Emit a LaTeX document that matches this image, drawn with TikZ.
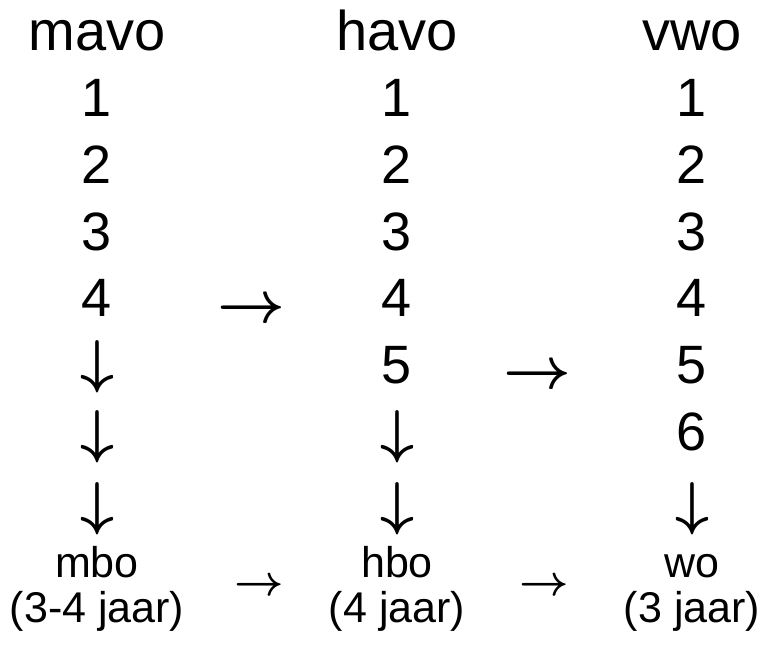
\documentclass[tikz,border=0pt]{standalone}
\usepackage{fontspec}
\setmainfont{Liberation Sans}
\newcommand{\bigra}{\smash{\scalebox{5.9}{\normalsize\boldmath$\rightarrow$}}}
\newcommand{\bigda}{\smash{\scalebox{5.9}{\normalsize\boldmath$\downarrow$}}}
\newcommand{\smallra}{\smash{\scalebox{4.3}{\normalsize\boldmath$\rightarrow$}}}
\begin{document}
\begin{tikzpicture}[x=1pt,y=-1pt,
  head/.style={font=\fontsize{56}{56}\selectfont, anchor=base, inner sep=0pt},
  big/.style={font=\fontsize{54}{54}\selectfont, anchor=base, inner sep=0pt},
  small/.style={font=\fontsize{43}{43}\selectfont, anchor=base, inner sep=0pt},
  smallarrow/.style={anchor=base, inner sep=0pt}]
\useasboundingbox (0,0) rectangle (779,645);
\def\ca{97}\def\cb{397}\def\cc{692}
% headers
\node[head] (mavo) at (\ca,50) {mavo};
\node[head] (havo) at (\cb,50) {havo};
\node[head] (vwo) at (\cc,50) {vwo};
% column 1
\node[big] (m1) at (\ca,116.7) {1};
\node[big] (m2) at (\ca,183.4) {2};
\node[big] (m3) at (\ca,250.1) {3};
\node[big] (m4) at (\ca,316.8) {4};
\node[big] (m5) at (\ca,381) {\bigda};
\node[big] (m6) at (\ca,451) {\bigda};
\node[big] (m7) at (\ca,523) {\bigda};
% column 2
\node[big] (h1) at (\cb,116.7) {1};
\node[big] (h2) at (\cb,183.4) {2};
\node[big] (h3) at (\cb,250.1) {3};
\node[big] (h4) at (\cb,316.8) {4};
\node[big] (h5) at (\cb,383.5) {5};
\node[big] (h6) at (\cb,451) {\bigda};
\node[big] (h7) at (\cb,523) {\bigda};
% column 3
\node[big] (v1) at (\cc,116.7) {1};
\node[big] (v2) at (\cc,183.4) {2};
\node[big] (v3) at (\cc,250.1) {3};
\node[big] (v4) at (\cc,316.8) {4};
\node[big] (v5) at (\cc,383.5) {5};
\node[big] (v6) at (\cc,450.2) {6};
\node[big] (v7) at (\cc,523) {\bigda};
% horizontal arrows
\node[big] (a1) at (251,322) {\bigra};
\node[big] (a2) at (537,388) {\bigra};
% bottom
\node[small] (mbo) at (\ca,577) {mbo};
\node[small] (mboj) at (\ca,622) {(3-4 jaar)};
\node[small] (hbo) at (\cb,577) {hbo};
\node[small] (hboj) at (\cb,622) {(4 jaar)};
\node[small] (wo) at (\cc,577) {wo};
\node[small] (woj) at (\cc,622) {(3 jaar)};
\node[smallarrow] (b1) at (259,595) {\smallra};
\node[smallarrow] (b2) at (544,595) {\smallra};
\end{tikzpicture}
\end{document}
